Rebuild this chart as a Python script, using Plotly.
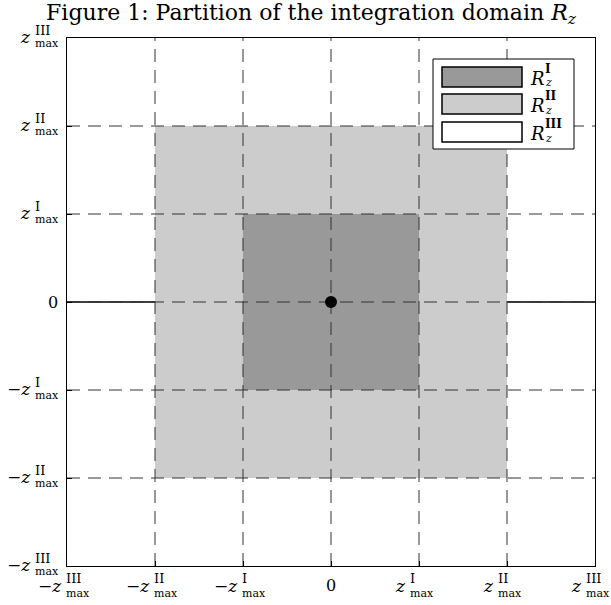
import plotly.graph_objects as go

# ---------------- data ----------------
levels = [1, 2, 3]                       # z_max^I, z_max^II, z_max^III
region_names = ["I", "II", "III"]
region_colors = ["#999999", "#cccccc", "#ffffff"]
tick_vals = [-3, -2, -1, 0, 1, 2, 3]
tick_sups = ["III", "II", "I", "", "I", "II", "III"]
grid_vals = [-2, -1, 0, 1, 2]
origin = [0.0, 0.0]

# ---------------- layout constants ----------------
W, H = 611, 605
L, R, T, B = 67, 16, 38, 39
PW, PH = W - L - R, H - T - B
SERIF = "DejaVu Serif"


def px_x(p):
    return (p - L) / PW


def px_y(p):
    return 1 - (p - T) / PH


fig = go.Figure()


def square(lv):
    return [-lv, lv, lv, -lv, -lv], [-lv, -lv, lv, lv, -lv]


# outer region (white)
xs, ys = square(levels[2])
fig.add_trace(go.Scatter(x=xs, y=ys, fill="toself", fillcolor=region_colors[2],
                         mode="none", hoverinfo="skip", showlegend=False))
# solid horizontal axis line (under inner fills)
fig.add_trace(go.Scatter(x=[-levels[2], levels[2]], y=[0, 0], mode="lines",
                         line=dict(color="black", width=1.6), hoverinfo="skip", showlegend=False))
# middle and inner regions
for i in [1, 0]:
    xs, ys = square(levels[i])
    fig.add_trace(go.Scatter(x=xs, y=ys, fill="toself", fillcolor=region_colors[i],
                             mode="none", hoverinfo="skip", showlegend=False))

# dashed grid lines
dash = "13px,8px"
for g in grid_vals:
    fig.add_trace(go.Scatter(x=[-levels[2], levels[2]], y=[g, g], mode="lines",
                             line=dict(color="#333333", width=1, dash=dash),
                             hoverinfo="skip", showlegend=False))
    fig.add_trace(go.Scatter(x=[g, g], y=[-levels[2], levels[2]], mode="lines",
                             line=dict(color="#333333", width=1, dash=dash),
                             hoverinfo="skip", showlegend=False))

# origin point
fig.add_trace(go.Scatter(x=[origin[0]], y=[origin[1]], mode="markers",
                         marker=dict(color="black", size=12), hoverinfo="skip", showlegend=False))

annotations = []
ZS, SUP, SUB = 17, 13, 11


def ann(**kw):
    base = dict(showarrow=False, font=dict(family=SERIF, size=SUB, color="black"))
    f = kw.pop("font", None)
    if f:
        base["font"] = dict(base["font"], **f)
    base.update(kw)
    annotations.append(base)


# x-axis tick labels
for v, s in zip(tick_vals, tick_sups):
    if v == 0:
        ann(x=v, y=0, xref="x", yref="paper", text="0", xanchor="center", yanchor="middle",
            yshift=-19, font=dict(size=16))
        continue
    neg = v < 0
    zx = -3 if neg else -11
    ann(x=v, y=0, xref="x", yref="paper", text=("−" if neg else "") + "<i>z</i>",
        xanchor="right", yanchor="middle", xshift=zx, yshift=-20, font=dict(size=ZS))
    ann(x=v, y=0, xref="x", yref="paper", text=s, xanchor="left", yanchor="middle",
        xshift=zx, yshift=-12, font=dict(size=SUP))
    ann(x=v, y=0, xref="x", yref="paper", text="max", xanchor="left", yanchor="middle",
        xshift=zx, yshift=-27)

# y-axis tick labels
for v, s in zip(tick_vals, tick_sups):
    if v == 0:
        ann(x=0, y=v, xref="paper", yref="y", text="0", xanchor="right", yanchor="middle",
            xshift=-7, font=dict(size=16))
        continue
    neg = v < 0
    ann(x=0, y=v, xref="paper", yref="y", text=("−" if neg else "") + "<i>z</i>",
        xanchor="right", yanchor="middle", xshift=-34, yshift=1, font=dict(size=ZS))
    ann(x=0, y=v, xref="paper", yref="y", text=s, xanchor="left", yanchor="middle",
        xshift=-34, yshift=8, font=dict(size=SUP))
    ann(x=0, y=v, xref="paper", yref="y", text="max", xanchor="left", yanchor="middle",
        xshift=-34, yshift=-5)

# legend (drawn manually)
shapes = [dict(type="rect", xref="paper", yref="paper", x0=px_x(433), x1=px_x(574),
               y0=px_y(149), y1=px_y(59), line=dict(color="black", width=1),
               fillcolor="white", layer="above")]
row_centers = [77, 104, 132]
for name, col, yc in zip(region_names, region_colors, row_centers):
    shapes.append(dict(type="rect", xref="paper", yref="paper", x0=px_x(442), x1=px_x(522),
                       y0=px_y(yc + 10), y1=px_y(yc - 10), line=dict(color="black", width=1.5),
                       fillcolor=col, layer="above"))
    ann(x=px_x(528), y=px_y(yc + 1), xref="paper", yref="paper", text="<i>R</i>",
        xanchor="left", yanchor="middle", font=dict(size=18))
    ann(x=px_x(543), y=px_y(yc - 8), xref="paper", yref="paper", text="<b>" + name + "</b>",
        xanchor="left", yanchor="middle", font=dict(size=12))
    ann(x=px_x(543), y=px_y(yc + 6), xref="paper", yref="paper", text="<i>z</i>",
        xanchor="left", yanchor="middle", font=dict(size=11))

axis_common = dict(range=[-3, 3], tickvals=tick_vals, showticklabels=False, showgrid=False,
                   zeroline=False, showline=True, linecolor="black", linewidth=1.2, mirror=True,
                   ticks="inside", ticklen=5, tickcolor="black", fixedrange=True)

fig.update_layout(
    width=W, height=H,
    margin=dict(l=L, r=R, t=T, b=B, pad=0),
    paper_bgcolor="white", plot_bgcolor="white",
    xaxis=axis_common, yaxis=axis_common,
    shapes=shapes, annotations=annotations,
    showlegend=False,
    title=dict(text="Figure 1: Partition of the integration domain <i>R</i><sub><i>z</i></sub>",
               x=311 / W, xref="container", xanchor="center",
               y=1 - 12 / H, yref="container", yanchor="middle",
               font=dict(family=SERIF, size=22, color="black")),
)

fig.write_html("out.html")
